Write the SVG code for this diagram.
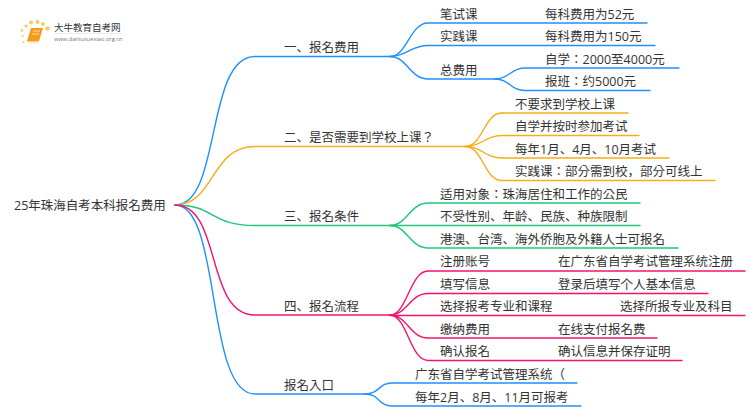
<svg xmlns="http://www.w3.org/2000/svg" width="750" height="410" viewBox="0 0 750 410">
<style>
text{font-family:"Open Sans","Noto Sans CJK KR","Noto Sans",sans-serif;font-size:12.5px;fill:#333}
.c path{fill:none;stroke-width:1.4;stroke-linecap:round}
.b path{stroke:#1e90ff}.o path{stroke:#f9ac17}.g path{stroke:#1fc77a}.r path{stroke:#f5126f}
</style>
<rect width="750" height="410" fill="#fff"/>
<g id="logo">
<g fill="#fbc85a"><circle cx="47.500" cy="28.500" r="2.200"/><circle cx="31" cy="22.500" r="2"/><circle cx="37.500" cy="22" r="1.900"/><circle cx="26" cy="26" r="1.600"/><circle cx="43" cy="24" r="1.900"/><circle cx="22" cy="30.500" r="1.300"/><circle cx="22.500" cy="36" r="1.100"/><circle cx="23.500" cy="42" r=".9"/></g>
<path d="M31 28H43L39 41H27Z" fill="#f59a1b"/><path d="M27 41H39L38 42.500H28Z" fill="#fbd38a"/>
<path d="M33 31H40M32 34H39" stroke="#fde2ae" stroke-width="1"/>
<text x="54" y="31" style="font-size:9.500px">大牛教育自考网</text>
<path d="M54 33.500H122" stroke="#ddd" stroke-width=".6"/>
<text x="54" y="41" style="font-size:5.700px;fill:#777">www.daniuxuexiao.org.cn</text>
</g>
<g id="connectors" class="c">
<g class="b">
<path d="M175 205C222 205 205 56.500 255 56.500H390"/>
<path d="M390 56.500C407 56.500 410 23 428 23H647"/>
<path d="M390 56.500C407 56.500 410 45.500 428 45.500H655"/>
<path d="M390 56.500C407 56.500 410 79 428 79H495"/>
<path d="M495 79C510 79 510 68 525 68H679"/>
<path d="M495 79C510 79 510 90.500 525 90.500H650"/>
<path d="M175 205C222 205 205 394 255 394H365"/>
<path d="M365 394C380 394 378 383 392 383H577"/>
<path d="M365 394C380 394 378 406 392 406H581"/>
</g>
<g class="o">
<path d="M175 205C215 205 210 146.500 255 146.500H465"/>
<path d="M465 146.500C483 146.500 484 113 502 113H628"/>
<path d="M465 146.500C483 146.500 484 135.500 502 135.500H639"/>
<path d="M465 146.500C483 146.500 484 158 502 158H669"/>
<path d="M465 146.500C483 146.500 484 180.500 502 180.500H715"/>
</g>
<g class="g">
<path d="M175 205C215 205 210 225.500 255 225.500H390"/>
<path d="M390 225.500C407 225.500 410 203 428 203H640"/>
<path d="M390 225.500H640"/>
<path d="M390 225.500C407 225.500 410 248 428 248H678"/>
</g>
<g class="r">
<path d="M175 205C222 205 205 315 255 315H390"/>
<path d="M390 315C407 315 410 271 428 271H745"/>
<path d="M390 315C407 315 410 293.500 428 293.500H708"/>
<path d="M390 315.500H745"/>
<path d="M390 315C407 315 410 338 428 338H657"/>
<path d="M390 315C407 315 410 360.500 428 360.500H682"/>
</g>
</g>
<g id="root"><text x="14" y="210">25年珠海自考本科报名费用</text></g>
<g id="n1"><text x="284" y="52">一、报名费用</text></g>
<g id="n2"><text x="284" y="142">二、是否需要到学校上课？</text></g>
<g id="n3"><text x="284" y="221">三、报名条件</text></g>
<g id="n4"><text x="284" y="311">四、报名流程</text></g>
<g id="n5"><text x="284" y="390">报名入口</text></g>
<g id="n1-1"><text x="440" y="19">笔试课</text><text x="545" y="19">每科费用为52元</text></g>
<g id="n1-2"><text x="440" y="41">实践课</text><text x="545" y="41">每科费用为150元</text></g>
<g id="n1-3"><text x="440" y="75">总费用</text><text x="545" y="64">自学：2000至4000元</text><text x="545" y="86">报班：约5000元</text></g>
<g id="n2-1"><text x="515" y="109">不要求到学校上课</text></g>
<g id="n2-2"><text x="515" y="131">自学并按时参加考试</text></g>
<g id="n2-3"><text x="515" y="154">每年1月、4月、10月考试</text></g>
<g id="n2-4"><text x="515" y="176">实践课：部分需到校，部分可线上</text></g>
<g id="n3-1"><text x="440" y="199">适用对象：珠海居住和工作的公民</text></g>
<g id="n3-2"><text x="440" y="221">不受性别、年龄、民族、种族限制</text></g>
<g id="n3-3"><text x="440" y="244">港澳、台湾、海外侨胞及外籍人士可报名</text></g>
<g id="n4-1"><text x="440" y="266">注册账号</text><text x="558" y="266">在广东省自学考试管理系统注册</text></g>
<g id="n4-2"><text x="440" y="289">填写信息</text><text x="558" y="289">登录后填写个人基本信息</text></g>
<g id="n4-3"><text x="440" y="311">选择报考专业和课程</text><text x="620" y="311">选择所报专业及科目</text></g>
<g id="n4-4"><text x="440" y="334">缴纳费用</text><text x="558" y="334">在线支付报名费</text></g>
<g id="n4-5"><text x="440" y="356">确认报名</text><text x="558" y="356">确认信息并保存证明</text></g>
<g id="n5-1"><text x="415" y="379">广东省自学考试管理系统（</text></g>
<g id="n5-2"><text x="415" y="402">每年2月、8月、11月可报考</text></g>
</svg>
